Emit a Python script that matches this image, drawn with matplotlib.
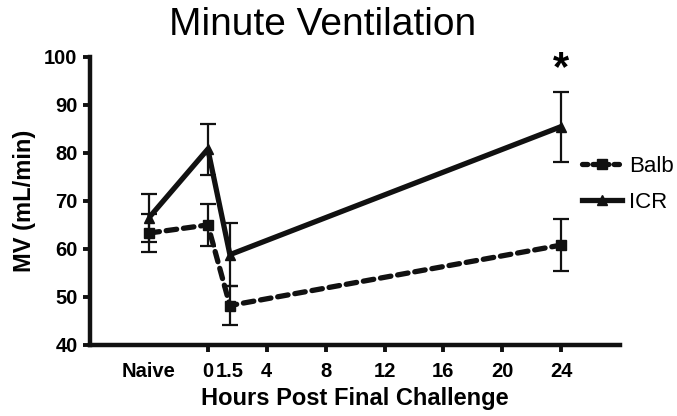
import matplotlib
matplotlib.use("Agg")
import matplotlib.pyplot as plt
from matplotlib.lines import Line2D

plt.rcParams['font.family'] = ['Liberation Sans', 'DejaVu Sans']

# Data
tick_pos = [-4, 0, 1.5, 4, 8, 12, 16, 20, 24]
tick_labels = ["Naive", "0", "1.5", "4", "8", "12", "16", "20", "24"]
x_hours = [-4, 0, 1.5, 24]
balb_mean = [63.3, 65.0, 48.2, 60.8]
balb_sem = [4.0, 4.4, 4.1, 5.4]
icr_mean = [66.5, 80.8, 58.8, 85.5]
icr_sem = [5.0, 5.3, 6.5, 7.3]

fig = plt.figure(figsize=(6.77, 4.16), dpi=100)
ax = fig.add_axes([0.133, 0.171, 0.783, 0.692])

ax.errorbar(x_hours, icr_mean, yerr=icr_sem, fmt='none', ecolor='#111111',
            elinewidth=1.6, capsize=6, capthick=1.6, zorder=2)
ax.errorbar(x_hours, balb_mean, yerr=balb_sem, fmt='none', ecolor='#111111',
            elinewidth=1.6, capsize=6, capthick=1.6, zorder=2)

ax.plot(x_hours, icr_mean, color='#111111', lw=3.8, marker='^', ms=7.5,
        solid_capstyle='butt', zorder=3)
ax.plot(x_hours, balb_mean, color='#111111', lw=3.8, marker='s', ms=7.5,
        dashes=(2.0, 1.3), dash_capstyle='round', zorder=3)

ax.text(24, 97.5, "*", ha='center', va='center', fontsize=30, fontweight='bold')

ax.set_xlim(-8, 28)
ax.set_ylim(40, 100)
ax.set_yticks(range(40, 101, 10))
ax.set_xticks(tick_pos)
ax.set_xticklabels(tick_labels)
for i, t in enumerate(ax.xaxis.get_major_ticks()):
    if tick_labels[i] in ("Naive", "1.5"):
        t.tick1line.set_visible(False)

for s in ['top', 'right']:
    ax.spines[s].set_visible(False)
for s in ['left', 'bottom']:
    ax.spines[s].set_linewidth(3.2)
    ax.spines[s].set_color('#111111')
ax.tick_params(direction='out', length=5, width=2.8, color='#111111',
               labelsize=14.5, pad=4)
ax.tick_params(axis='x', pad=7)
for lab in ax.get_xticklabels() + ax.get_yticklabels():
    lab.set_fontweight('bold')

ax.set_ylabel("MV (mL/min)", fontsize=17, fontweight='bold', labelpad=6)
ax.set_xlabel("Hours Post Final Challenge", fontsize=17, fontweight='bold', labelpad=5)

fig.text(0.476, 0.94, "Minute Ventilation", ha='center', va='center', fontsize=28)

handles = [
    Line2D([], [], color='#111111', lw=3.8, marker='s', ms=7.5, dashes=(1.0, 1.0),
           dash_capstyle='round'),
    Line2D([], [], color='#111111', lw=3.8, marker='^', ms=7.5),
]
fig.legend(handles, ["Balb", "ICR"], loc='center left', bbox_to_anchor=(0.86, 0.557),
           frameon=False, fontsize=16, handlelength=1.8, handletextpad=0.3,
           labelspacing=0.65, borderaxespad=0, borderpad=0)

fig.savefig("out.png", dpi=100)
